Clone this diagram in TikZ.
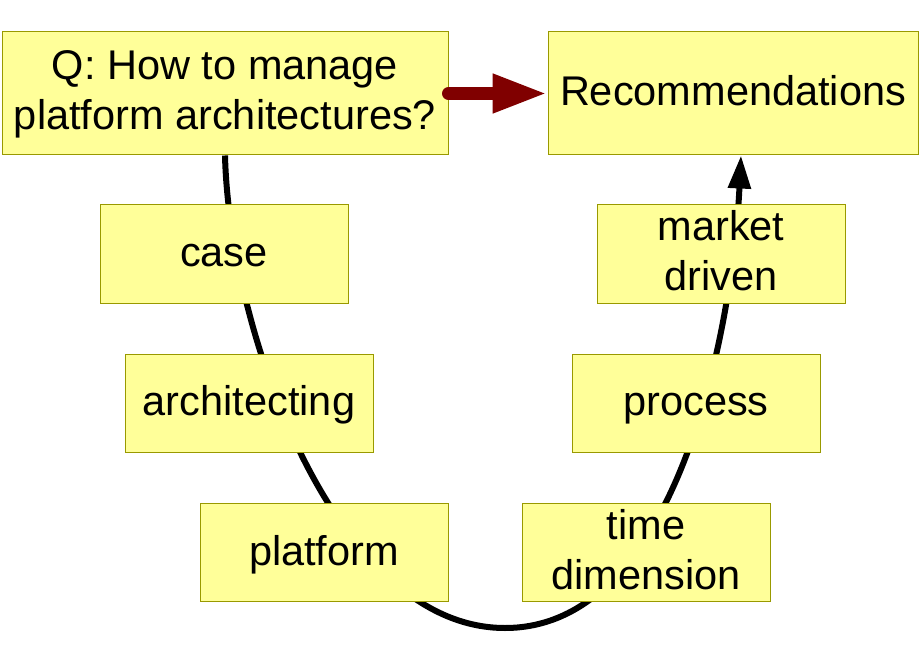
\documentclass[tikz,border=0pt]{standalone}
\usepackage{fontspec}
\setmainfont{Liberation Sans}
\usetikzlibrary{arrows.meta,backgrounds}
\definecolor{boxfill}{HTML}{FFFF99}
\definecolor{boxline}{HTML}{999900}
\definecolor{darkred}{HTML}{800000}
\begin{document}
\begin{tikzpicture}[x=1pt,y=-1pt,
  box/.style={draw=boxline, fill=boxfill, line width=1pt, inner sep=0pt,
    minimum width=248pt, minimum height=98pt, align=center,
    font=\fontsize{41.5}{50}\selectfont},
  oneline/.style={text height=32pt, text depth=7pt},
  twoline/.style={text height=82pt, text depth=9pt}]
\useasboundingbox (0,0) rectangle (920,660);

\node[box, twoline, minimum width=446pt, minimum height=123pt] (q) at (225,93.5) {Q: How to manage\\platform architectures?};
\node[box, oneline, minimum width=370pt, minimum height=123pt] (rec) at (733,93.5) {Recommendations};
\node[box, oneline] (case) at (224,254) {case};
\node[box, oneline] (arch) at (249,403) {architecting};
\node[box, oneline] (plat) at (324,552.5) {platform};
\node[box, twoline] (time) at (646,552.5) {time\\dimension};
\node[box, oneline] (proc) at (696,403) {process};
\node[box, twoline] (mkt) at (721,254) {market\\driven};

\coordinate (bot) at (505,628);
\coordinate (top) at ([xshift=8pt]rec.south);

\begin{scope}[on background layer]
\path[draw,line width=6pt,-{Triangle[length=33pt,width=22pt]}] (q.south)
  .. controls (229,327) and (333,628) .. (bot)
  .. controls (680,628) and (733,321) .. (top);
\end{scope}

\path[draw=darkred,line width=13pt,line cap=round,-{Triangle[length=55pt,width=36pt]}] (q.east) -- (rec.west);
\end{tikzpicture}
\end{document}
